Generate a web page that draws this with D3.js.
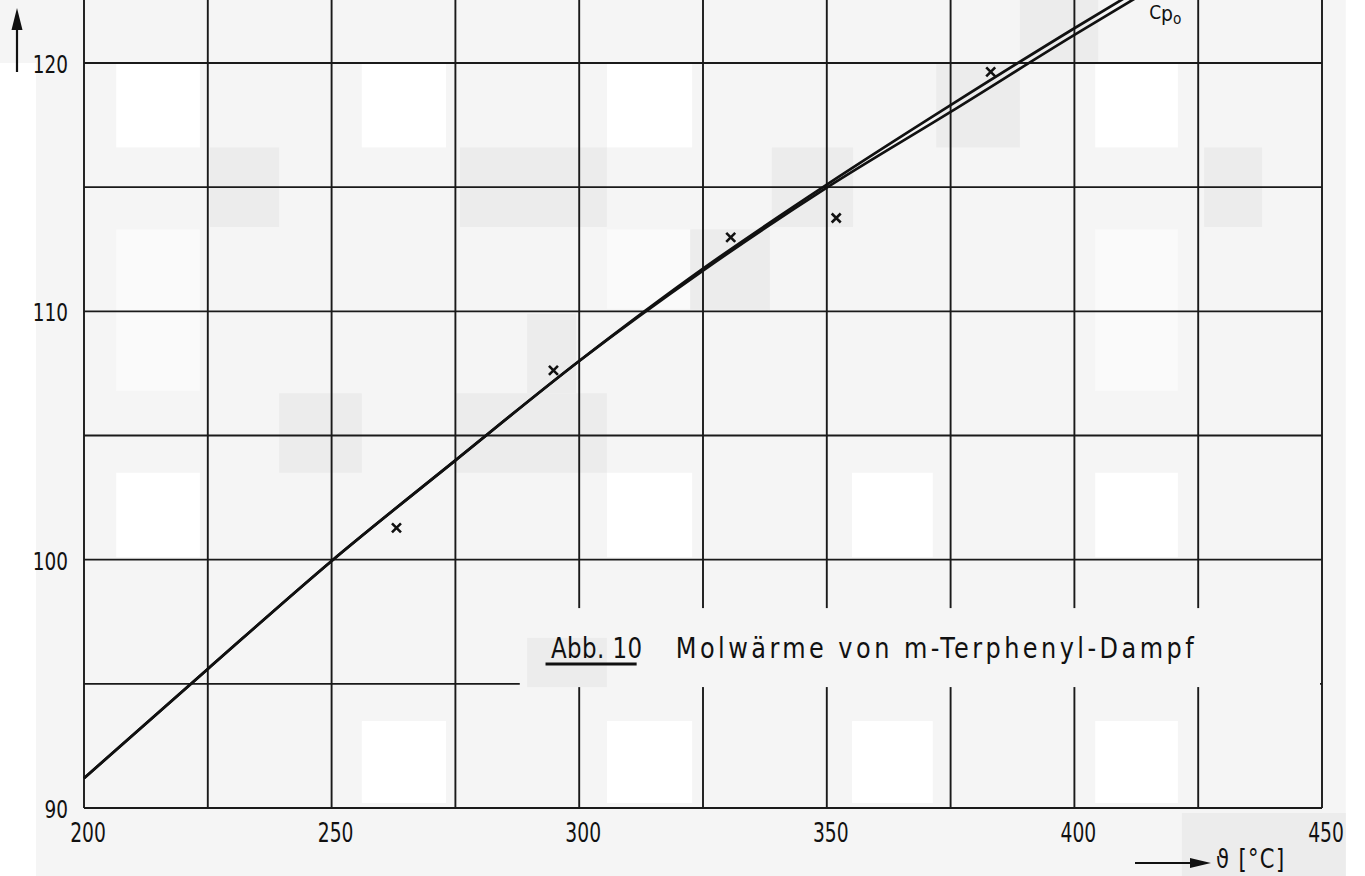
<!DOCTYPE html>
<html>
<head>
<meta charset="utf-8">
<script src="https://cdn.jsdelivr.net/npm/d3@7"></script>
<style>
  html, body { margin: 0; padding: 0; background: #ffffff; }
  svg { display: block; }
  text { font-family: 'DejaVu Sans Condensed', 'DejaVu Sans', sans-serif; fill: #111; }
</style>
</head>
<body>
<svg id="chart" width="1365" height="876"></svg>
<script>
// ---- Data ----
const xTickValues = [200, 250, 300, 350, 400, 450];
const xGridValues = [200, 225, 250, 275, 300, 325, 350, 375, 400, 425, 450];
const yTickValues = [90, 100, 110, 120];
const yGridValues = [90, 95, 100, 105, 110, 115, 120, 125];

// temperature [°C]
const temps = [200, 225, 250, 275, 300, 325, 350, 375, 400, 415];
// two nearly coincident cp0 curves
const cpUpper = [91.2, 95.6, 99.95, 104.0, 108.0, 111.72, 115.1, 118.3, 121.4, 123.2];
const cpLower = [91.2, 95.6, 99.95, 104.0, 108.0, 111.64, 114.98, 118.03, 121.13, 122.93];

// measured points (x markers)
const measTemps = [263.1, 294.8, 330.6, 351.9, 383.1];
const measCp    = [101.28, 107.62, 112.98, 113.76, 119.64];

const titleLabel = "Abb. 10";
const titleText = "Molwärme von m-Terphenyl-Dampf";
const curveLabel = ["C", "p", "o"];
const xAxisLabel = "ϑ [°C]";

// scan-texture patches (data units): [x0, x1, y0, y1]
const whitePatches = [
  [206.5, 223.4, 120, 116.6], [256.1, 273.1, 120, 116.6], [305.6, 322.8, 120, 116.6], [404.2, 420.9, 120, 116.6],
  [206.5, 223.4, 103.5, 100.1], [305.6, 322.8, 103.5, 100.1], [355.1, 371.4, 103.5, 100.1], [404.2, 420.9, 103.5, 100.1],
  [256.1, 273.1, 93.5, 90.2], [305.6, 322.8, 93.5, 90.2], [355.1, 371.4, 93.5, 90.2], [404.2, 420.9, 93.5, 90.2]
];
const lightPatches = [
  [206.5, 223.4, 113.3, 106.8], [404.2, 420.9, 113.3, 106.8], [305.6, 322.8, 113.3, 110.1]
];
const darkPatches = [
  [225.4, 239.4, 116.6, 113.4], [275.9, 305.6, 116.6, 113.4], [338.9, 355.3, 116.6, 113.4],
  [426.2, 437.9, 116.6, 113.4], [372.1, 389.0, 120, 116.6], [389.0, 404.8, 123, 120],
  [322.4, 338.5, 113.3, 110.06], [239.4, 256.1, 106.7, 103.5], [274.9, 305.6, 106.7, 103.5],
  [289.5, 299.4, 109.9, 106.7], [421.7, 454.8, 89.8, 86.5]
];

// ---- Layout ----
const W = 1365, H = 876;
const svg = d3.select("#chart");
const x = d3.scaleLinear().domain([200, 450]).range([84, 1322]);
const y = d3.scaleLinear().domain([90, 120]).range([808, 63]);

// narrow lettering helper (technical stencil look)
function label(parent, px, py, str, size, sx, anchor, spacing) {
  const g = parent.append("g").attr("transform", `translate(${px},${py}) scale(${sx},1)`);
  const t = g.append("text").attr("x", 0).attr("y", 0)
    .attr("font-size", size).attr("text-anchor", anchor || "start");
  if (spacing) t.attr("letter-spacing", spacing);
  if (str !== null) t.text(str);
  return t;
}

// background (scanned paper)
svg.append("rect").attr("x", x(190.3)).attr("y", 0)
  .attr("width", x(454.8) - x(190.3)).attr("height", H).attr("fill", "#f5f5f5");
svg.append("rect").attr("x", 0).attr("y", 0)
  .attr("width", x(190.3)).attr("height", y(120)).attr("fill", "#f5f5f5");

function patch(g, arr, color) {
  g.selectAll(null).data(arr).enter().append("rect")
    .attr("x", d => x(d[0])).attr("y", d => y(d[2]))
    .attr("width", d => x(d[1]) - x(d[0])).attr("height", d => y(d[3]) - y(d[2]))
    .attr("fill", color);
}
const bg = svg.append("g");
patch(bg, lightPatches, "#fafafa");
patch(bg, whitePatches, "#ffffff");
patch(bg, darkPatches, "#ececec");

// grid
const grid = svg.append("g").attr("stroke", "#1a1a1a").attr("stroke-width", 1.9);
grid.selectAll(null).data(xGridValues).enter().append("line")
  .attr("x1", d => x(d)).attr("x2", d => x(d))
  .attr("y1", y(90)).attr("y2", y(125));
grid.selectAll(null).data(yGridValues).enter().append("line")
  .attr("x1", x(200)).attr("x2", x(450))
  .attr("y1", d => y(d)).attr("y2", d => y(d));

// title mask box (hides grid behind caption)
svg.append("rect")
  .attr("x", x(288.0)).attr("y", y(98.05))
  .attr("width", x(449.6) - x(288.0)).attr("height", y(94.87) - y(98.05))
  .attr("fill", "#f5f5f5");
svg.append("rect")
  .attr("x", x(289.5)).attr("y", y(96.85))
  .attr("width", x(305.6) - x(289.5)).attr("height", y(94.87) - y(96.85))
  .attr("fill", "#ececec");

// curves
const line = d3.line().x(d => x(d[0])).y(d => y(d[1])).curve(d3.curveMonotoneX);
const curves = [d3.zip(temps, cpUpper), d3.zip(temps, cpLower)];
svg.append("g").selectAll(null).data(curves).enter().append("path")
  .attr("d", line).attr("fill", "none").attr("stroke", "#111").attr("stroke-width", 2.7);

// measured points
const pts = d3.zip(measTemps, measCp);
const s = 4.5;
const pg = svg.append("g").attr("stroke", "#111").attr("stroke-width", 2.6);
pg.selectAll(null).data(pts).enter().append("path")
  .attr("d", d => {
    const cx = x(d[0]), cy = y(d[1]);
    return `M${cx - s},${cy - s}L${cx + s},${cy + s}M${cx - s},${cy + s}L${cx + s},${cy - s}`;
  });

// tick labels
const xl = svg.append("g");
xTickValues.forEach(v => label(xl, x(v) + 4, y(90) + 34, String(v), 26, 0.8, "middle"));
const yl = svg.append("g");
yTickValues.forEach(v => label(yl, x(200) - 16, y(v) + 10, String(v), 25, 0.82, "end"));

// caption
label(svg, x(294.3), y(96.08) + 1, titleLabel, 29, 0.88, "start", 0.5);
svg.append("line").attr("x1", x(293.2)).attr("x2", x(311.6))
  .attr("y1", y(96.08) + 7).attr("y2", y(96.08) + 7)
  .attr("stroke", "#111").attr("stroke-width", 2.8);
label(svg, x(319.5), y(96.08) + 1, titleText, 29, 0.92, "start", 3.75);

// curve label C_p_o
const cl = label(svg, x(415.1), 19, null, 20, 0.95, "start");
cl.append("tspan").text(curveLabel[0]);
cl.append("tspan").attr("dy", 2).attr("font-size", 22).text(curveLabel[1]);
cl.append("tspan").attr("dy", 3).attr("font-size", 16).text(curveLabel[2]);

// y axis arrow
svg.append("line").attr("x1", 17).attr("x2", 17).attr("y1", y(120) + 9).attr("y2", 26)
  .attr("stroke", "#111").attr("stroke-width", 2.2);
svg.append("path").attr("d", "M17,8L11.5,30L22.5,30Z").attr("fill", "#111");

// x axis label with arrow
svg.append("line").attr("x1", 1135).attr("x2", 1195).attr("y1", 863).attr("y2", 863)
  .attr("stroke", "#111").attr("stroke-width", 2.2);
svg.append("path").attr("d", "M1211,863L1190,858L1190,868Z").attr("fill", "#111");
label(svg, 1216, 868, xAxisLabel, 26, 0.9, "start", 1.5);
</script>
</body>
</html>
